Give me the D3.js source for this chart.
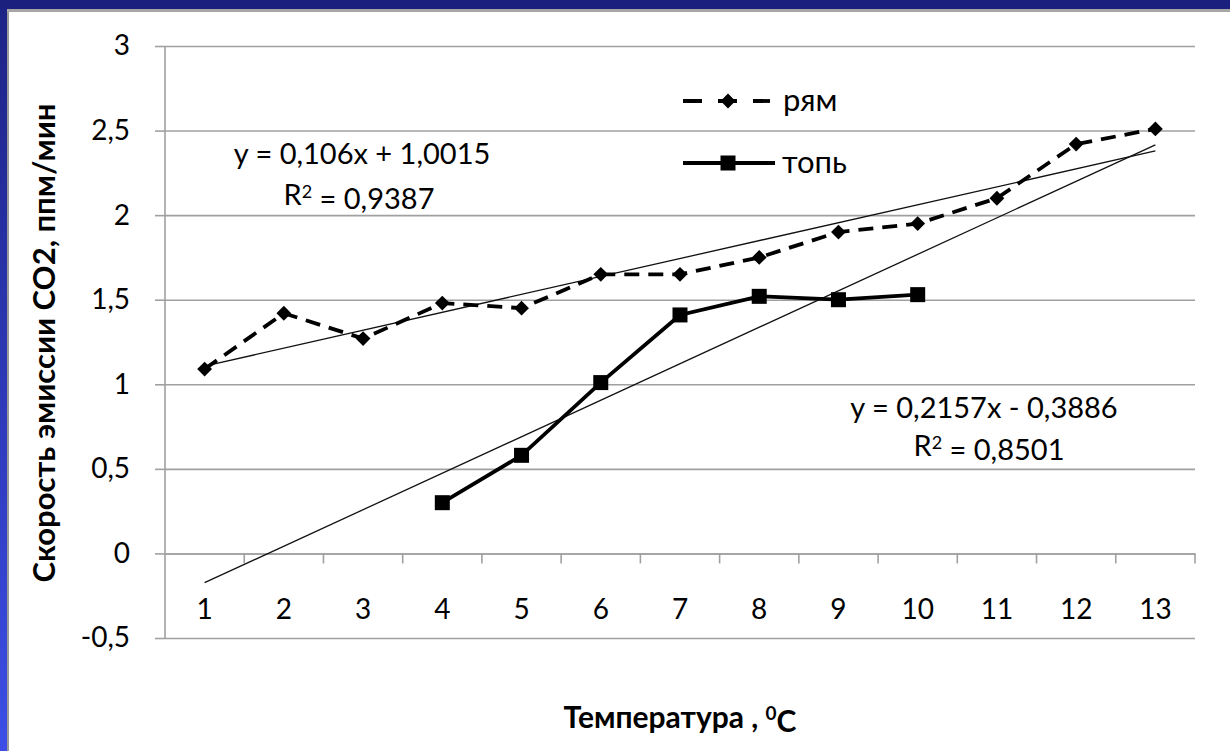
<!DOCTYPE html>
<html>
<head>
<meta charset="utf-8">
<script src="https://cdn.jsdelivr.net/npm/d3@7"></script>
<style>
  html, body { margin: 0; padding: 0; background: #fff; }
  svg { display: block; }
  text { font-family: Lato, "Open Sans", sans-serif; fill: #000; }
</style>
</head>
<body>
<svg id="chart" width="1230" height="751"></svg>
<script>
// Temperature categories (°C)
const categories = [1, 2, 3, 4, 5, 6, 7, 8, 9, 10, 11, 12, 13];
// CO2 emission rate, ppm/min
const ryamValues = [1.09, 1.42, 1.27, 1.48, 1.45, 1.65, 1.65, 1.75, 1.90, 1.95, 2.10, 2.42, 2.51];
const topValues  = [null, null, null, 0.30, 0.58, 1.01, 1.41, 1.52, 1.50, 1.53, null, null, null];
// Linear trend coefficients [slope, intercept]
const ryamTrend = [0.106, 1.0015];
const topTrend  = [0.2157, -0.3886];
const yTicks = [-0.5, 0, 0.5, 1, 1.5, 2, 2.5, 3];
const seriesNames = ["рям", "топь"];

const svg = d3.select("#chart");
const W = 1230, H = 751;

// slide frame
const defs = svg.append("defs");
const grad = defs.append("linearGradient").attr("id", "sideGrad")
  .attr("x1", 0).attr("y1", 0).attr("x2", 0).attr("y2", 1);
grad.append("stop").attr("offset", "0%").attr("stop-color", "#1d2284");
grad.append("stop").attr("offset", "100%").attr("stop-color", "#3c4ee6");
svg.append("rect").attr("x", 0).attr("y", 0).attr("width", W).attr("height", H).attr("fill", "#fff");
svg.append("rect").attr("x", 0).attr("y", 0).attr("width", 7).attr("height", H).attr("fill", "url(#sideGrad)");
svg.append("rect").attr("x", 7).attr("y", 10).attr("width", 2).attr("height", H).attr("fill", "#9a9a9a");
svg.append("rect").attr("x", 0).attr("y", 0).attr("width", W).attr("height", 9).attr("fill", "#1b1f7e");
svg.append("rect").attr("x", 7).attr("y", 9).attr("width", W).attr("height", 3).attr("fill", "#a6a6a6");

const plotL = 165, plotR = 1195, plotT = 46, plotB = 638;

const x = d3.scaleBand().domain(categories).range([plotL, plotR]);
const xc = v => x(v) + x.bandwidth() / 2;
const y = d3.scaleLinear().domain([-0.5, 3]).range([plotB, plotT]);

const gridColor = "#a0a0a0";

// horizontal gridlines and y axis
const yAxis = d3.axisLeft(y).tickValues(yTicks).tickSize(-(plotR - plotL))
  .tickFormat(d => d3.format(".1~f")(d).replace(".", ",").replace("−", "-"));
const gy = svg.append("g").attr("transform", `translate(${plotL},0)`).call(yAxis);
gy.select(".domain").remove();
gy.selectAll(".tick line").attr("stroke", gridColor).attr("stroke-width", 1.6);
gy.selectAll(".tick").append("line")
  .attr("x1", -10).attr("x2", 0).attr("stroke", gridColor).attr("stroke-width", 1.6);
gy.selectAll(".tick text").attr("x", -35).attr("dy", "0.32em")
  .style("font-size", "28px").style("font-family", "Lato, sans-serif").attr("fill", "#222");

// vertical axis line
svg.append("line").attr("x1", plotL).attr("x2", plotL).attr("y1", plotT).attr("y2", plotB)
  .attr("stroke", gridColor).attr("stroke-width", 1.6);

// x axis along y = 0
const xAxis = d3.axisBottom(x).tickSize(0).tickFormat(d => d);
const gx = svg.append("g").attr("transform", `translate(0,${y(0)})`).call(xAxis);
gx.select(".domain").attr("stroke", gridColor).attr("stroke-width", 1.6);
gx.selectAll(".tick text").attr("y", 57).attr("dy", "0.32em")
  .style("font-size", "28px").style("font-family", "Lato, sans-serif").attr("fill", "#222");
// category boundary ticks
const bounds = categories.slice(1).map(c => x(c)).concat([plotR]);
gx.selectAll(".bound").data(bounds).enter().append("line")
  .attr("x1", d => d).attr("x2", d => d).attr("y1", 0).attr("y2", 10)
  .attr("stroke", gridColor).attr("stroke-width", 1.6);

// trend lines
function trendPoints(coef) {
  const c0 = categories[0], c1 = categories[categories.length - 1];
  return [[c0, coef[0] * c0 + coef[1]], [c1, coef[0] * c1 + coef[1]]];
}
const tline = d3.line().x(d => xc(d[0])).y(d => y(d[1]));
[ryamTrend, topTrend].forEach(coef => {
  svg.append("path").attr("d", tline(trendPoints(coef)))
    .attr("fill", "none").attr("stroke", "#111").attr("stroke-width", 1.3);
});

// data series
const line = d3.line().defined(d => d[1] != null).x(d => xc(d[0])).y(d => y(d[1]));
const ryamData = categories.map((c, i) => [c, ryamValues[i]]);
const topData = categories.map((c, i) => [c, topValues[i]]);

svg.append("path").attr("d", line(ryamData)).attr("fill", "none")
  .attr("stroke", "#000").attr("stroke-width", 3.8).attr("stroke-dasharray", "15,9");
svg.append("path").attr("d", line(topData)).attr("fill", "none")
  .attr("stroke", "#000").attr("stroke-width", 3.8);

const diamond = d3.symbol().type(d3.symbolDiamond2).size(140);
svg.selectAll(".dia").data(ryamData).enter().append("path")
  .attr("transform", d => `translate(${xc(d[0])},${y(d[1])})`)
  .attr("d", diamond).attr("fill", "#000");
svg.selectAll(".sq").data(topData.filter(d => d[1] != null)).enter().append("rect")
  .attr("x", d => xc(d[0]) - 7.5).attr("y", d => y(d[1]) - 7.5)
  .attr("width", 15).attr("height", 15).attr("fill", "#000");

// legend
const lg = svg.append("g");
lg.append("line").attr("x1", 683).attr("x2", 770).attr("y1", 101).attr("y2", 101)
  .attr("stroke", "#000").attr("stroke-width", 3.8).attr("stroke-dasharray", "19,16");
lg.append("path").attr("transform", "translate(728,101)").attr("d", diamond).attr("fill", "#000");
lg.append("text").attr("x", 783).attr("y", 101).attr("dy", "0.32em")
  .style("font-size", "31px").text(seriesNames[0]);
lg.append("line").attr("x1", 683).attr("x2", 775).attr("y1", 163).attr("y2", 163)
  .attr("stroke", "#000").attr("stroke-width", 3.8);
lg.append("rect").attr("x", 720.5).attr("y", 155.5).attr("width", 15).attr("height", 15).attr("fill", "#000");
lg.append("text").attr("x", 782).attr("y", 163).attr("dy", "0.32em")
  .style("font-size", "31px").text(seriesNames[1]);

// trend equations
function eqText(coef) {
  const s = coef[1] < 0 ? " - " : " + ";
  return `y = ${String(coef[0]).replace(".", ",")}x${s}${String(Math.abs(coef[1])).replace(".", ",")}`;
}
function addLabel(cx1, cy1, cx2, cy2, coef, r2) {
  svg.append("text").attr("x", cx1).attr("y", cy1).attr("text-anchor", "middle").attr("dy", "0.32em")
    .style("font-size", "29px").attr("fill", "#222").text(eqText(coef));
  const t = svg.append("text").attr("x", cx2).attr("y", cy2).attr("text-anchor", "middle").attr("dy", "0.32em")
    .style("font-size", "29px").attr("fill", "#222");
  t.append("tspan").text("R");
  t.append("tspan").attr("dy", "-0.38em").style("font-size", "18px").text("2");
  t.append("tspan").attr("dy", "0.38em").text(" = " + r2);
}
addLabel(362, 155, 359, 196, ryamTrend, "0,9387");
addLabel(984, 409, 989, 447, topTrend, "0,8501");

// axis titles
svg.append("text").attr("x", 680).attr("y", 718).attr("text-anchor", "middle").attr("dy", "0.32em")
  .style("font-size", "30px").style("font-weight", "bold")
  .call(t => {
    t.append("tspan").text("Температура , ");
    t.append("tspan").attr("dy", "-0.4em").style("font-size", "19px").text("0");
    t.append("tspan").attr("dy", "0.4em").text("C");
  });
svg.append("text").attr("transform", "translate(45,343) rotate(-90)").attr("text-anchor", "middle")
  .attr("dy", "0.32em").style("font-size", "31px").style("font-weight", "bold")
  .text("Скорость эмиссии CO2, ппм/мин");
</script>
</body>
</html>
